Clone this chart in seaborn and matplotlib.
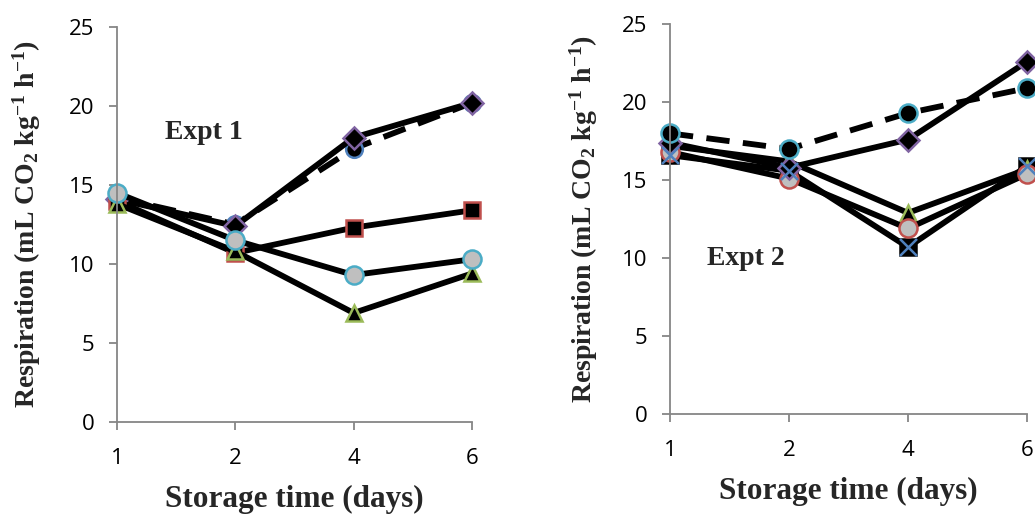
import matplotlib
matplotlib.use('Agg')
import matplotlib.pyplot as plt
import seaborn as sns
import pandas as pd

# data (x is categorical: storage days)
days = ['1', '2', '4', '6']

e1_circle = [14.2, 12.5, 17.3, 20.2]     # dashed, black fill, blue edge
e1_diamond = [14.1, 12.4, 18.0, 20.2]
e1_square = [14.0, 10.7, 12.3, 13.4]
e1_triangle = [13.8, 10.8, 6.9, 9.4]
e1_grey = [14.5, 11.5, 9.3, 10.3]

e2_xsquare = [16.6, 15.6, 10.7, 15.9]
e2_triangle = [17.2, 16.2, 12.9, 15.7]
e2_grey = [16.8, 15.1, 11.9, 15.4]
e2_diamond = [17.4, 15.8, 17.6, 22.6]
e2_circle = [18.0, 17.0, 19.3, 20.9]     # dashed

sns.set_style('ticks')
plt.rcParams['font.family'] = ['Open Sans', 'DejaVu Sans']
plt.rcParams['mathtext.fontset'] = 'custom'
plt.rcParams['mathtext.rm'] = 'Liberation Serif:bold'
plt.rcParams['mathtext.it'] = 'Liberation Serif:bold'
plt.rcParams['mathtext.bf'] = 'Liberation Serif:bold'

fig = plt.figure(figsize=(10.35, 5.15), dpi=100)
ax1 = fig.add_axes([0.1130, 0.1806, 0.343, 0.767])
ax2 = fig.add_axes([0.6473, 0.196, 0.345, 0.757])

LW = 4.2
DASH = (0, (4, 2.3))


def line(ax, vals, marker, face, edge, ls='-', ms=12):
    df_ = pd.DataFrame({'day': days, 'resp': vals})
    sns.lineplot(data=df_, x='day', y='resp', ax=ax, sort=False, color='black',
                 linewidth=LW, linestyle=ls, marker=marker, markersize=ms,
                 markerfacecolor=face, markeredgecolor=edge, markeredgewidth=1.8,
                 clip_on=False)


# Expt 1
line(ax1, e1_circle, 'o', 'black', '#4f81bd', ls=DASH)
line(ax1, e1_diamond, 'D', 'black', '#8064a2', ms=11)
line(ax1, e1_square, 's', 'black', '#c0504d', ms=12)
line(ax1, e1_triangle, '^', 'black', '#9bbb59', ms=12)
line(ax1, e1_grey, 'o', '#bfbfbf', '#4bacc6', ms=13)

# Expt 2
line(ax2, e2_xsquare, 's', 'black', 'black', ms=12)
sns.scatterplot(x=days, y=e2_xsquare, ax=ax2, marker='x', s=150, color='#4f81bd',
                linewidth=1.8, clip_on=False, zorder=5)
line(ax2, e2_triangle, '^', 'black', '#9bbb59', ms=12)
line(ax2, e2_grey, 'o', '#bfbfbf', '#c0504d', ms=13)
line(ax2, e2_diamond, 'D', 'black', '#8064a2', ms=11)
line(ax2, e2_circle, 'o', 'black', '#4bacc6', ls=DASH, ms=13)

serif = ['Liberation Serif', 'DejaVu Serif']
ylab = r'Respiration (mL CO$_\mathbf{2}$ kg$^\mathbf{-1}$ h$^\mathbf{-1}$)'
for ax, txt, tx, ty in [(ax1, 'Expt 1', 0.135, 0.734), (ax2, 'Expt 2', 0.104, 0.40)]:
    ax.set_xlim(0, 3)
    ax.set_ylim(0, 25)
    ax.set_yticks([0, 5, 10, 15, 20, 25])
    for s in ['top', 'right']:
        ax.spines[s].set_visible(False)
    for s in ['left', 'bottom']:
        ax.spines[s].set_color('#868686')
        ax.spines[s].set_linewidth(1.3)
    ax.tick_params(axis='both', colors='#868686', labelcolor='black', length=6,
                   width=1.3, labelsize=16, direction='out')
    ax.tick_params(axis='x', pad=13)
    ax.tick_params(axis='y', pad=10)
    ax.set_xlabel('Storage time (days)', family=serif, fontweight='bold',
                  fontsize=22.5, labelpad=11)
    ax.set_ylabel(ylab, family=serif, fontweight='bold', fontsize=20)
    ax.text(tx, ty, txt, transform=ax.transAxes, family=serif, fontweight='bold',
            fontsize=20, va='center', ha='left')

ax1.yaxis.set_label_coords(-0.208, 0.5)
ax2.yaxis.set_label_coords(-0.196, 0.5)

plt.savefig('out.png', dpi=100)
